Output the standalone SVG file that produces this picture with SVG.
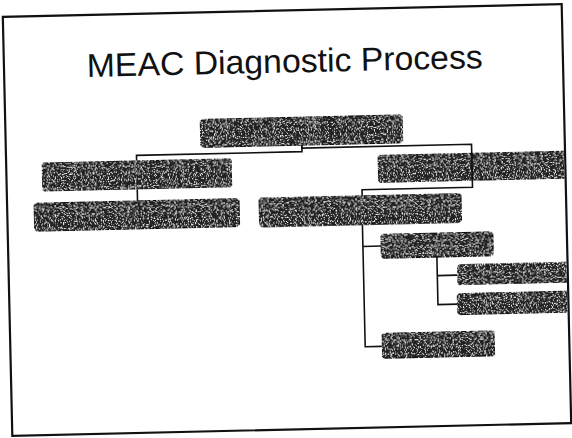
<svg xmlns="http://www.w3.org/2000/svg" width="572" height="438" viewBox="0 0 572 438">
  <style>
    .frame { fill: none; stroke: #111; stroke-width: 2.2; }
    .title { font-family: "Liberation Sans", Arial, sans-serif; font-size: 33px; fill: #111; }
    .box { fill: #222; stroke: #111; stroke-width: 1.2; filter: url(#grain); }
    .link { fill: none; stroke: #111; stroke-width: 1.6; }
  </style>
  <defs>
    <!-- light speckle over the dark boxes, like a halftone print -->
    <filter id="grain" x="0" y="0" width="100%" height="100%">
      <feTurbulence type="fractalNoise" baseFrequency="0.85" numOctaves="1" seed="7" result="noise"/>
      <feColorMatrix in="noise" type="matrix"
        values="0 0 0 0 0.85  0 0 0 0 0.85  0 0 0 0 0.85  7 0 0 0 -3.9" result="specks"/>
      <feComposite in="specks" in2="SourceGraphic" operator="atop"/>
    </filter>
    <clipPath id="inside">
      <rect x="8.6" y="11.6" width="556.8" height="416.8"/>
    </clipPath>
  </defs>

  <rect width="572" height="438" fill="#fff"/>

  <!-- the whole slide sits slightly tilted on the page -->
  <g transform="rotate(-1.3 287 220)">
    <rect class="frame" x="7.5" y="10.5" width="559" height="419"/>
    <text class="title" x="288.3" y="72.5" text-anchor="middle" textLength="396" lengthAdjust="spacingAndGlyphs">MEAC Diagnostic Process</text>

    <g clip-path="url(#inside)">
      <g id="nodes">
        <g id="n-top"><rect class="box" x="202" y="117.3" width="203" height="28" rx="5"/></g>
        <g id="n-left"><rect class="box" x="43" y="157" width="190" height="29" rx="5"/></g>
        <g id="n-left-sub"><rect class="box" x="34" y="197.5" width="206" height="28" rx="5"/></g>
        <g id="n-right"><rect class="box" x="379" y="157" width="230" height="28" rx="5"/></g>
        <g id="n-mid"><rect class="box" x="259" y="197.2" width="203" height="29" rx="5"/></g>
        <g id="n-mid-a"><rect class="box" x="380.4" y="236.4" width="112" height="24" rx="4"/></g>
        <g id="n-mid-a1"><rect class="box" x="456" y="268.9" width="150" height="20" rx="4"/></g>
        <g id="n-mid-a2"><rect class="box" x="455.5" y="297.5" width="150" height="21" rx="4"/></g>
        <g id="n-mid-b"><rect class="box" x="379" y="335.4" width="113" height="25" rx="4"/></g>
      </g>

      <g id="connectors">
        <!-- top box to left branch -->
        <path class="link" d="M303.5 145.3 V152 H138 V157"/>
        <!-- top box to right branch, running on down past it to the middle box -->
        <path class="link" d="M303.5 145.3 V148.5 H473.2 V191.5 H362.7 V197.2"/>
        <!-- left branch to its child -->
        <path class="link" d="M138 186 V197.5"/>
        <!-- middle box to its children -->
        <path class="link" d="M362.3 226.2 V348.5 H379"/>
        <path class="link" d="M362.3 248.2 H380.4"/>
        <!-- first child to its two sub-items -->
        <path class="link" d="M436 260.4 V308 H455.5"/>
        <path class="link" d="M436 279 H456"/>
      </g>
    </g>
  </g>
</svg>
